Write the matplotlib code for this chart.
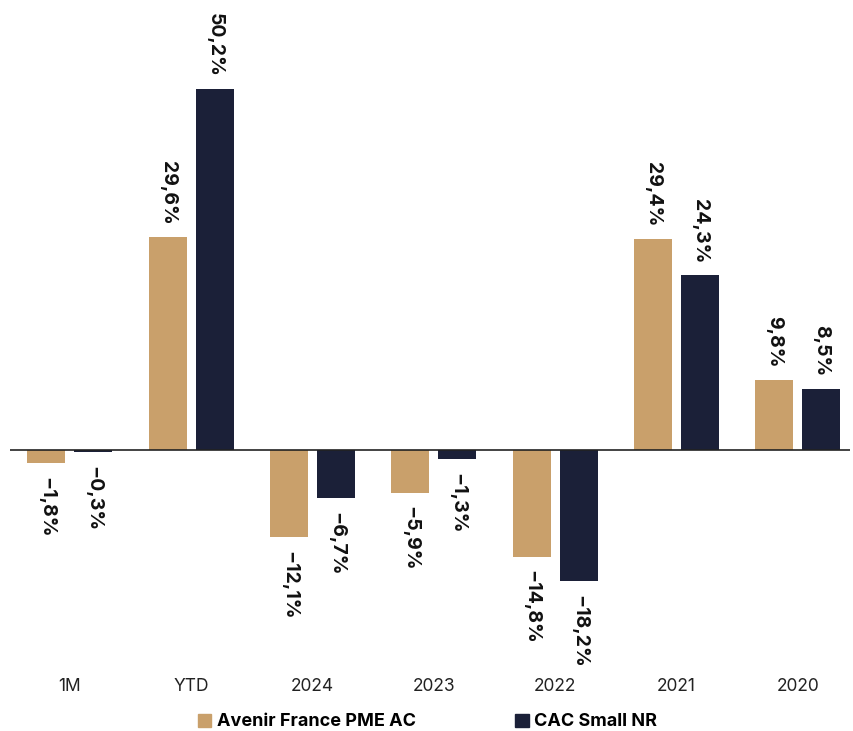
import numpy as np
import matplotlib
matplotlib.use('Agg')
import matplotlib.pyplot as plt
import matplotlib.patches as mpatches

# data
categories = ['1M', 'YTD', '2024', '2023', '2022', '2021', '2020']
fund_values = [-1.8, 29.6, -12.1, -5.9, -14.8, 29.4, 9.8]
index_values = [-0.3, 50.2, -6.7, -1.3, -18.2, 24.3, 8.5]
series_names = ['Avenir France PME AC', 'CAC Small NR']

gold = '#C9A06B'
navy = '#1B2038'

plt.rcParams['font.family'] = ['Inter', 'DejaVu Sans']

fig = plt.figure(figsize=(8.54, 7.31), dpi=100)
# axes placed in pixel terms: x 10..850, y (from top) 0..650
ax = fig.add_axes([10 / 854, 1 - 650 / 731, 840 / 854, 650 / 731])

x = np.arange(len(categories))
width = 0.313
offset = 0.194

bars_fund = ax.bar(x - offset, fund_values, width, color=gold)
bars_index = ax.bar(x + offset, index_values, width, color=navy)

# value labels, rotated, above positive / below negative bars
def fmt(v):
    s = '{:.1f}%'.format(abs(v)).replace('.', ',')
    return ('\u2212' if v < 0 else '') + s

for bars, vals in [(bars_fund, fund_values), (bars_index, index_values)]:
    for b, v in zip(bars, vals):
        cx = b.get_x() + b.get_width() / 2
        if v >= 0:
            ax.annotate(fmt(v), (cx, v), xytext=(0, 9), textcoords='offset points',
                        rotation=-90, ha='center', va='bottom',
                        fontsize=14, fontweight='bold', color='#111111')
        else:
            ax.annotate(fmt(v), (cx, v), xytext=(0, -10), textcoords='offset points',
                        rotation=-90, ha='center', va='top',
                        fontsize=14, fontweight='bold', color='#111111')

ax.set_xlim(-0.494, 6.43)
ax.set_ylim(-27.8, 62.6)
ax.axhline(0, color='#222222', linewidth=1.2)

for s in ax.spines.values():
    s.set_visible(False)
ax.set_yticks([])
ax.set_xticks(x)
ax.set_xticklabels(categories, fontsize=12.5, color='#222222')
ax.tick_params(axis='x', length=0, pad=20)

handles = [mpatches.Patch(color=gold, label=series_names[0]),
           mpatches.Patch(color=navy, label=series_names[1])]
fig.legend(handles=handles, loc='center', bbox_to_anchor=(427.5 / 854, 1 - 722 / 731),
           ncol=2, frameon=False, handlelength=0.75, handleheight=0.75,
           handletextpad=0.3, columnspacing=5.5,
           prop={'size': 13, 'weight': 'bold'})

fig.savefig('out.png', dpi=100)
